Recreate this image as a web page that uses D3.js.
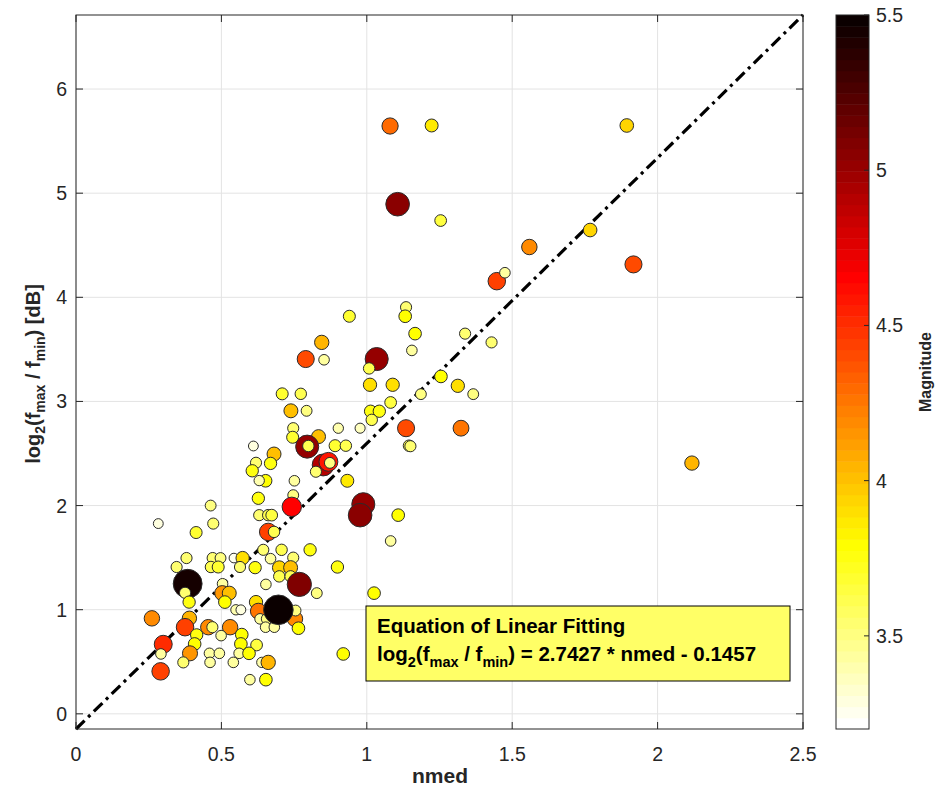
<!DOCTYPE html>
<html>
<head>
<meta charset="utf-8">
<script src="https://cdn.jsdelivr.net/npm/d3@7"></script>
<style>
  body { margin: 0; background: #ffffff; }
  text { font-family: "Liberation Sans", Arial, Helvetica, sans-serif; }
</style>
</head>
<body>
<svg id="chart" width="937" height="788"></svg>
<script>

/**
 * data (nmed, log2 ratio, magnitude), in draw order
 */
var nmed = [
  1.080, 1.223, 1.894, 1.106, 1.254, 1.559, 1.768, 1.917, 1.447, 1.475,
  0.940, 1.135, 1.132, 2.118, 1.166, 1.155, 1.034, 1.008, 1.011, 1.089,
  1.082, 1.013, 1.043, 1.017, 0.977, 0.902, 1.135, 1.324, 1.145, 1.150,
  0.891, 0.928, 1.255, 1.313, 1.366, 1.186, 1.338, 1.429, 0.845, 0.790,
  0.853, 0.709, 0.773, 0.739, 0.793, 0.747, 0.745, 0.834, 0.795, 0.799,
  0.610, 0.681, 0.619, 0.669, 0.606, 0.652, 0.630, 0.751, 0.850, 0.868,
  0.873, 0.825, 0.933, 0.627, 0.747, 0.742, 0.630, 0.661, 0.673, 0.988,
  0.977, 1.108, 0.463, 0.472, 0.661, 0.681, 0.644, 0.707, 0.805, 0.669,
  0.747, 0.616, 0.699, 0.738, 0.899, 0.699, 0.738, 0.768, 0.653, 0.828,
  1.025, 1.082, 0.283, 0.413, 0.380, 0.346, 0.470, 0.497, 0.464, 0.489,
  0.543, 0.573, 0.564, 0.384, 0.375, 0.389, 0.504, 0.503, 0.527, 0.512,
  0.550, 0.567, 0.619, 0.627, 0.753, 0.755, 0.633, 0.656, 0.652, 0.682,
  0.696, 0.765, 0.261, 0.390, 0.375, 0.455, 0.469, 0.530, 0.499, 0.415,
  0.408, 0.392, 0.369, 0.300, 0.292, 0.291, 0.570, 0.567, 0.621, 0.561,
  0.595, 0.459, 0.493, 0.461, 0.541, 0.639, 0.661, 0.598, 0.653, 0.919
];

var logRatio = [
  5.645, 5.650, 5.650, 4.894, 4.737, 4.483, 4.646, 4.316, 4.155, 4.236,
  3.818, 3.905, 3.818, 2.408, 3.651, 3.490, 3.407, 3.317, 3.160, 3.160,
  2.990, 2.906, 2.906, 2.823, 2.743, 2.743, 2.743, 2.743, 2.575, 2.570,
  2.575, 2.575, 3.240, 3.150, 3.070, 3.070, 3.651, 3.567, 3.567, 3.407,
  3.400, 3.073, 3.073, 2.910, 2.910, 2.743, 2.656, 2.662, 2.566, 2.572,
  2.572, 2.495, 2.411, 2.405, 2.334, 2.238, 2.240, 2.238, 2.390, 2.420,
  2.410, 2.325, 2.238, 2.070, 2.100, 1.988, 1.908, 1.908, 1.908, 2.013,
  1.908, 1.908, 2.000, 1.827, 1.747, 1.747, 1.575, 1.575, 1.575, 1.490,
  1.500, 1.404, 1.404, 1.404, 1.410, 1.320, 1.320, 1.243, 1.243, 1.159,
  1.159, 1.660, 1.827, 1.741, 1.496, 1.410, 1.496, 1.496, 1.410, 1.410,
  1.496, 1.496, 1.410, 1.249, 1.162, 1.073, 1.249, 1.159, 1.159, 1.073,
  0.999, 0.999, 1.073, 0.986, 0.912, 0.992, 0.912, 0.912, 0.832, 0.832,
  0.999, 0.822, 0.917, 0.918, 0.832, 0.832, 0.832, 0.832, 0.751, 0.758,
  0.671, 0.581, 0.494, 0.668, 0.575, 0.408, 0.761, 0.671, 0.661, 0.581,
  0.581, 0.581, 0.581, 0.494, 0.494, 0.494, 0.494, 0.328, 0.328, 0.575
];

var magnitude = [
  4.30, 3.85, 3.95, 5.05, 3.65, 4.20, 3.95, 4.40, 4.45, 3.45,
  3.70, 3.55, 3.80, 4.05, 3.80, 3.45, 5.00, 3.60, 3.90, 3.90,
  3.65, 3.75, 3.75, 3.60, 3.35, 3.40, 4.40, 4.25, 3.60, 3.55,
  3.70, 3.60, 3.80, 3.90, 3.50, 3.50, 3.55, 3.55, 4.05, 4.40,
  3.45, 3.70, 3.60, 4.00, 3.50, 3.55, 3.70, 4.00, 5.00, 3.60,
  3.30, 4.00, 3.55, 3.75, 3.75, 3.80, 3.40, 3.45, 4.90, 4.60,
  3.50, 3.55, 3.85, 3.75, 3.50, 4.65, 3.55, 3.60, 3.65, 5.00,
  5.05, 3.80, 3.50, 3.55, 4.45, 3.60, 3.55, 3.60, 3.75, 3.45,
  3.55, 3.75, 3.95, 4.00, 3.75, 3.60, 3.60, 5.10, 3.45, 3.50,
  3.80, 3.45, 3.30, 3.70, 3.55, 3.55, 3.55, 3.50, 3.60, 3.70,
  3.25, 3.90, 3.55, 5.45, 3.55, 3.75, 3.45, 4.15, 4.00, 3.80,
  3.40, 3.30, 3.90, 4.25, 4.20, 3.50, 3.45, 3.50, 3.45, 3.45,
  5.50, 3.80, 4.20, 4.05, 4.45, 4.20, 3.55, 4.20, 3.45, 3.75,
  3.80, 4.15, 3.55, 4.50, 3.45, 4.45, 3.80, 3.80, 3.65, 3.45,
  3.80, 3.45, 3.45, 3.45, 3.45, 3.40, 4.05, 3.45, 3.80, 3.80
];

// axis and colorbar ticks
var xTicks = [0, 0.5, 1, 1.5, 2, 2.5];
var xTickLabels = ['0', '0.5', '1', '1.5', '2', '2.5'];
var yTicks = [0, 1, 2, 3, 4, 5, 6];
var cTicks = [3.5, 4, 4.5, 5, 5.5];
var cTickLabels = ['3.5', '4', '4.5', '5', '5.5'];

// linear fit
var fitSlope = 2.7427;
var fitIntercept = -0.1457;

var app_chart = (function () {

  var margin = { left: 76, right: 803, top: 15, bottom: 729 };
  var cbar = { left: 836, right: 869 };
  var axisColor = '#262626';
  var gridColor = '#e3e3e3';
  var tickFont = 19.5;
  var cmin = 3.2, cmax = 5.5;
  var nColors = 64;

  var svg = d3.select('#chart');

  var x = d3.scaleLinear().domain([0, 2.5]).range([margin.left, margin.right]);
  var y = d3.scaleLinear()
    .domain([fitIntercept, fitSlope * 2.5 + fitIntercept])
    .range([margin.bottom, margin.top]);
  var r = d3.scaleSqrt().domain([0, Math.exp(5.5)]).range([0, 14.8]);
  var cy = d3.scaleLinear().domain([cmin, cmax]).range([margin.bottom, margin.top]);

  // flipud(hot(64)) like matlab
  function hotRow(i) {
    var n = Math.floor(3 / 8 * nColors);
    var k = i + 1;
    var rr = k <= n ? k / n : 1;
    var gg = k <= n ? 0 : (k <= 2 * n ? (k - n) / n : 1);
    var bb = k <= 2 * n ? 0 : (k - 2 * n) / (nColors - 2 * n);
    return d3.rgb(rr * 255, gg * 255, bb * 255).toString();
  }

  function colorIndex(m) {
    var idx = Math.floor((m - cmin) / (cmax - cmin) * nColors);
    if (idx < 0) { idx = 0; }
    if (idx > nColors - 1) { idx = nColors - 1; }
    return idx;
  }

  function magColor(m) {
    // low magnitude -> white, high -> black
    return hotRow(nColors - 1 - colorIndex(m));
  }

  function drawGrid() {
    var g = svg.append('g').attr('class', 'grid');
    g.selectAll('line.gx').data(xTicks).enter().append('line')
      .attr('x1', function (d) { return x(d); })
      .attr('x2', function (d) { return x(d); })
      .attr('y1', margin.top).attr('y2', margin.bottom)
      .attr('stroke', gridColor).attr('stroke-width', 1);
    g.selectAll('line.gy').data(yTicks).enter().append('line')
      .attr('y1', function (d) { return y(d); })
      .attr('y2', function (d) { return y(d); })
      .attr('x1', margin.left).attr('x2', margin.right)
      .attr('stroke', gridColor).attr('stroke-width', 1);
  }

  function drawAxes() {
    var g = svg.append('g').attr('class', 'axes');

    // box
    g.append('rect')
      .attr('x', margin.left).attr('y', margin.top)
      .attr('width', margin.right - margin.left)
      .attr('height', margin.bottom - margin.top)
      .attr('fill', 'none').attr('stroke', axisColor).attr('stroke-width', 1);

    var tl = 7;
    xTicks.forEach(function (d, i) {
      g.append('line').attr('x1', x(d)).attr('x2', x(d))
        .attr('y1', margin.bottom).attr('y2', margin.bottom - tl)
        .attr('stroke', axisColor);
      g.append('line').attr('x1', x(d)).attr('x2', x(d))
        .attr('y1', margin.top).attr('y2', margin.top + tl)
        .attr('stroke', axisColor);
      g.append('text').attr('x', x(d)).attr('y', 761)
        .attr('text-anchor', 'middle').attr('font-size', tickFont)
        .attr('fill', axisColor).text(xTickLabels[i]);
    });

    yTicks.forEach(function (d) {
      g.append('line').attr('x1', margin.left).attr('x2', margin.left + tl)
        .attr('y1', y(d)).attr('y2', y(d)).attr('stroke', axisColor);
      g.append('line').attr('x1', margin.right).attr('x2', margin.right - tl)
        .attr('y1', y(d)).attr('y2', y(d)).attr('stroke', axisColor);
      g.append('text').attr('x', 67).attr('y', y(d)).attr('dy', '0.36em')
        .attr('text-anchor', 'end').attr('font-size', tickFont)
        .attr('fill', axisColor).text(d);
    });

    // x label
    g.append('text').attr('x', 440).attr('y', 783)
      .attr('text-anchor', 'middle').attr('font-size', 21).attr('font-weight', 'bold')
      .attr('fill', axisColor).text('nmed');

    // y label with subscripts
    var yl = g.append('text')
      .attr('transform', 'translate(40,374) rotate(-90)')
      .attr('text-anchor', 'middle').attr('font-size', 20).attr('font-weight', 'bold')
      .attr('fill', axisColor);
    yl.append('tspan').text('log');
    yl.append('tspan').attr('font-size', 14).attr('dy', 5).text('2');
    yl.append('tspan').attr('dy', -5).text('(f');
    yl.append('tspan').attr('font-size', 14).attr('dy', 5).text('max');
    yl.append('tspan').attr('dy', -5).text(' / f');
    yl.append('tspan').attr('font-size', 14).attr('dy', 5).text('min');
    yl.append('tspan').attr('dy', -5).text(') [dB]');
  }

  function drawFitLine() {
    var xs = [0, 2.5];
    var line = d3.line()
      .x(function (d) { return x(d); })
      .y(function (d) { return y(fitSlope * d + fitIntercept); });
    svg.append('path').datum(xs)
      .attr('d', line)
      .attr('fill', 'none').attr('stroke', '#000000')
      .attr('stroke-width', 3.2)
      .attr('stroke-dasharray', '12,5,3,5');
  }

  function drawPoints() {
    var pts = nmed.map(function (d, i) {
      return { x: d, y: logRatio[i], m: magnitude[i] };
    });
    svg.append('g').attr('class', 'points')
      .selectAll('circle').data(pts).enter().append('circle')
      .attr('cx', function (d) { return x(d.x); })
      .attr('cy', function (d) { return y(d.y); })
      .attr('r', function (d) { return r(Math.exp(d.m)); })
      .attr('fill', function (d) { return magColor(d.m); })
      .attr('stroke', '#2b2b2b').attr('stroke-width', 1);
  }

  function drawTextBox() {
    var g = svg.append('g').attr('class', 'fit-box');
    g.append('rect').attr('x', 366).attr('y', 606).attr('width', 424).attr('height', 75)
      .attr('fill', '#ffff66').attr('stroke', '#000000').attr('stroke-width', 1);
    g.append('text').attr('x', 377).attr('y', 633)
      .attr('font-size', 20.5).attr('font-weight', 'bold').attr('fill', '#000000')
      .text('Equation of Linear Fitting');
    var t = g.append('text').attr('x', 377).attr('y', 661)
      .attr('font-size', 20.5).attr('font-weight', 'bold').attr('fill', '#000000');
    t.append('tspan').text('log');
    t.append('tspan').attr('font-size', 14.5).attr('dy', 6).text('2');
    t.append('tspan').attr('dy', -6).text('(f');
    t.append('tspan').attr('font-size', 14.5).attr('dy', 6).text('max');
    t.append('tspan').attr('dy', -6).text(' / f');
    t.append('tspan').attr('font-size', 14.5).attr('dy', 6).text('min');
    t.append('tspan').attr('dy', -6).text(') = ' + fitSlope + ' * nmed - ' + Math.abs(fitIntercept));
  }

  function drawColorbar() {
    var g = svg.append('g').attr('class', 'colorbar');
    var steps = d3.range(nColors);
    var step = (cmax - cmin) / nColors;
    g.selectAll('rect.band').data(steps).enter().append('rect')
      .attr('x', cbar.left)
      .attr('y', function (i) { return cy(cmin + (i + 1) * step); })
      .attr('width', cbar.right - cbar.left)
      .attr('height', function (i) { return cy(cmin + i * step) - cy(cmin + (i + 1) * step) + 0.5; })
      .attr('fill', function (i) { return hotRow(nColors - 1 - i); });

    g.append('rect').attr('x', cbar.left).attr('y', margin.top)
      .attr('width', cbar.right - cbar.left).attr('height', margin.bottom - margin.top)
      .attr('fill', 'none').attr('stroke', axisColor).attr('stroke-width', 1);

    cTicks.forEach(function (d, i) {
      g.append('line').attr('x1', cbar.right - 5).attr('x2', cbar.right)
        .attr('y1', cy(d)).attr('y2', cy(d)).attr('stroke', axisColor);
      g.append('text').attr('x', 876).attr('y', cy(d)).attr('dy', '0.36em')
        .attr('font-size', tickFont).attr('fill', axisColor).text(cTickLabels[i]);
    });

    g.append('text').attr('transform', 'translate(931,372) rotate(-90)')
      .attr('text-anchor', 'middle').attr('font-size', 16).attr('font-weight', 'bold')
      .attr('fill', axisColor).text('Magnitude');
  }

  drawGrid();
  drawFitLine();
  drawPoints();
  drawAxes();
  drawTextBox();
  drawColorbar();

}());
</script>
</body>
</html>
